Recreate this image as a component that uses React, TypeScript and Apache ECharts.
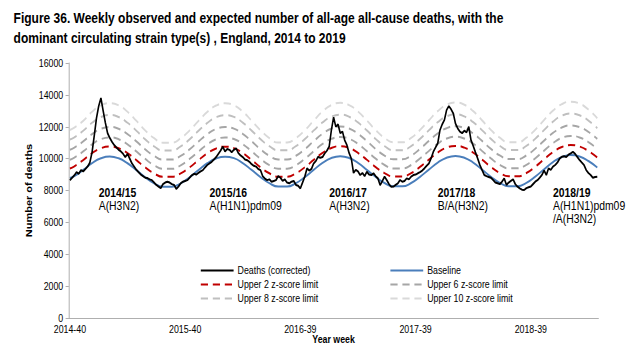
import React, { useEffect, useRef } from "react";
import * as echarts from "echarts";

// ---------- data ----------
const titleText =
  "Figure 36. Weekly observed and expected number of all-age all-cause deaths, with the\ndominant circulating strain type(s) , England, 2014 to 2019";

// ISO year-week spans shown on the axis (year, first week, last week)
const yearWeekSpans: [number, number, number][] = [
  [2014, 40, 52],
  [2015, 1, 53],
  [2016, 1, 52],
  [2017, 1, 52],
  [2018, 1, 52],
  [2019, 1, 17],
];
const tickLabels = ["2014-40", "2015-40", "2016-39", "2017-39", "2018-39"];

// weekly deaths (corrected), 2014-40 .. 2019-17
const deaths = [
  8650, 8800, 8950, 9150, 9050, 9280, 9200, 9350, 9500, 9750,
  10400, 11450, 12550, 13300, 13800, 13000, 12250, 11600, 11300, 11050,
  10850, 10700, 10550, 10450, 10300, 10100, 10300, 10000, 9700, 9500,
  9300, 9150, 9000, 8900, 8800, 8780, 8700, 8650, 8500, 8350,
  8250, 8150, 8400, 8500, 8550, 8500, 8400, 8350, 8100, 8250,
  8450, 8550, 8600, 8650, 8800, 8950, 9050, 9000, 9100, 9200,
  9280, 9450, 9600, 9700, 9800, 9950, 10100, 10300, 10500, 10750,
  10450, 10600, 10550, 10400, 10550, 10650, 10350, 10200, 10100, 9950,
  9900, 9800, 9650, 9550, 9500, 9350, 9280, 8900, 8750, 8650,
  8700, 8550, 8600, 8650, 8900, 8800, 8600, 8700, 8500, 8450,
  8550, 8600, 8350, 8300, 8130, 8500, 8870, 9390, 9250, 9350,
  9700, 9850, 10120, 10050, 10100, 10330, 10500, 10750, 11790, 12600,
  12000, 12150, 11600, 11700, 11150, 10850, 10350, 10000, 9100, 9300,
  9200, 8970, 9100, 8900, 9180, 9000, 8970, 9080, 8900, 8760,
  8340, 8600, 8870, 8650, 8400, 8240, 8250, 8350, 8450, 8660,
  8550, 8600, 8760, 8700, 8870, 8970, 9000, 9080, 9150, 9250,
  9390, 9550, 9700, 10020, 10430, 10700, 10960, 11790, 12150, 12420,
  13050, 13300, 13100, 12840, 12200, 11900, 11690, 11600, 11750, 11650,
  12000, 11170, 10800, 10400, 10020, 9600, 9280, 8970, 8900, 8850,
  8800, 8660, 8500, 8450, 8400, 8550, 8760, 8350, 8500, 8600,
  8700, 8400, 8240, 8130, 8050, 8030, 8150, 8200, 8250, 8400,
  8550, 8650, 8800, 8970, 9250, 8970, 9390, 9300, 9500, 9600,
  9750, 10000, 10120, 10150, 10100, 10250, 10330, 10430, 10300, 10100,
  9910, 9750, 9600, 9280, 9100, 8970, 8800, 8850, 8870,
];

// week indices (from 2014-40) at which baseline and limits were read
const limitWeeks = [
  0, 2, 6, 10, 14, 18, 22, 26, 30, 34, 38, 42, 46, 50, 54, 58, 62, 66, 70, 74,
  78, 82, 86, 90, 94, 98, 102, 106, 110, 114, 118, 122, 126, 130, 134, 138,
  142, 146, 150, 154, 158, 162, 166, 170, 174, 178, 182, 186, 190, 194, 198,
  202, 206, 210, 214, 218, 222, 226, 230, 234, 238,
];

const baseline = [
  8780,
  8900, 9290, 9720, 10020, 10130, 10020, 9710, 9280, 8830, 8450, 8240, 8240, 8450,
  8830, 9280, 9710, 10010, 10120, 10030, 9720, 9290, 8840, 8460, 8250, 8250, 8460,
  8840, 9290, 9730, 10040, 10150, 10040, 9730, 9300, 8850, 8470, 8260, 8260, 8470,
  8860, 9310, 9750, 10060, 10170, 10060, 9750, 9310, 8860, 8480, 8270, 8270, 8480,
  8870, 9330, 9780, 10100, 10220, 10130, 9850, 9440,
];
const upper2 = [
  9380,
  9520, 9910, 10340, 10650, 10760, 10650, 10340, 9910, 9450, 9070, 8860, 8860, 9070,
  9450, 9900, 10330, 10640, 10750, 10660, 10350, 9920, 9460, 9080, 8870, 8870, 9080,
  9460, 9920, 10360, 10670, 10780, 10670, 10360, 9930, 9470, 9090, 8880, 8880, 9090,
  9480, 9940, 10380, 10690, 10800, 10690, 10380, 9940, 9480, 9100, 8890, 8890, 9100,
  9490, 9960, 10410, 10730, 10850, 10760, 10480, 10070,
];
const upper4 = [
  9930,
  10060, 10450, 10900, 11220, 11330, 11220, 10900, 10450, 9980, 9580, 9360, 9360, 9580,
  9980, 10440, 10890, 11210, 11320, 11230, 10910, 10460, 9990, 9590, 9370, 9370, 9590,
  9990, 10460, 10920, 11240, 11350, 11240, 10920, 10470, 10000, 9600, 9380, 9380, 9600,
  10010, 10480, 10940, 11260, 11370, 11260, 10940, 10480, 10010, 9610, 9390, 9390, 9610,
  10020, 10500, 10970, 11300, 11420, 11330, 11040, 10610,
];
const upper6 = [
  10560,
  10690, 11080, 11540, 11870, 11990, 11870, 11540, 11080, 10580, 10170, 9940, 9940, 10170,
  10580, 11070, 11530, 11860, 11980, 11880, 11550, 11090, 10590, 10180, 9950, 9950, 10180,
  10590, 11090, 11560, 11890, 12010, 11890, 11560, 11100, 10600, 10190, 9960, 9960, 10190,
  10610, 11110, 11580, 11910, 12030, 11910, 11580, 11110, 10610, 10200, 9970, 9970, 10200,
  10620, 11130, 11610, 11950, 12080, 11980, 11680, 11240,
];
const upper8 = [
  11200,
  11330, 11750, 12250, 12610, 12740, 12610, 12250, 11750, 11210, 10770, 10510, 10510, 10770,
  11210, 11740, 12240, 12600, 12730, 12620, 12260, 11760, 11220, 10780, 10520, 10520, 10780,
  11220, 11760, 12270, 12630, 12760, 12630, 12270, 11770, 11230, 10790, 10530, 10530, 10790,
  11240, 11780, 12290, 12650, 12780, 12650, 12290, 11780, 11240, 10800, 10540, 10540, 10800,
  11250, 11800, 12320, 12690, 12830, 12720, 12390, 11910,
];
const upper10 = [
  11800,
  11950, 12370, 12940, 13340, 13480, 13340, 12940, 12370, 11770, 11280, 11000, 11000, 11280,
  11770, 12360, 12930, 13330, 13470, 13350, 12950, 12380, 11780, 11290, 11010, 11010, 11290,
  11780, 12380, 12960, 13360, 13500, 13360, 12960, 12390, 11790, 11300, 11020, 11020, 11300,
  11800, 12400, 12980, 13380, 13520, 13380, 12980, 12400, 11800, 11310, 11030, 11030, 11310,
  11810, 12420, 13010, 13420, 13570, 13450, 13080, 12530,
];

// season annotations: season, dominant strain lines, anchor week index
const seasonNotes: { season: string; strains: string[]; week: number }[] = [
  { season: "2014/15", strains: ["A(H3N2)"], week: 13 },
  { season: "2015/16", strains: ["A(H1N1)pdm09"], week: 63 },
  { season: "2016/17", strains: ["A(H3N2)"], week: 117 },
  { season: "2017/18", strains: ["B/A(H3N2)"], week: 166 },
  { season: "2018/19", strains: ["A(H1N1)pdm09", "/A(H3N2)"], week: 218 },
];

// ---------- chart ----------
const FONT = "'Liberation Sans',Arial,sans-serif";
const SQUEEZE = 0.8; // the reference image is horizontally condensed
const W = 640 / SQUEEZE;
const H = 355;

export default function App() {
  const ref = useRef<HTMLDivElement>(null);

  useEffect(() => {
    if (!ref.current) return;
    const chart = echarts.init(ref.current, undefined, { renderer: "svg" });

    const categories: string[] = [];
    for (const [y, a, b] of yearWeekSpans) {
      for (let w = a; w <= b; w++) categories.push(`${y}-${String(w).padStart(2, "0")}`);
    }
    const pairs = (vals: number[]) => limitWeeks.map((w, i) => [w, vals[i]]);

    const dashed = (name: string, vals: number[], color: string) => ({
      name,
      type: "line",
      data: pairs(vals),
      smooth: true,
      symbol: "none",
      lineStyle: { color, width: 2, type: [9, 6] },
      itemStyle: { color },
      silent: true,
    });

    const legendBase = {
      top: 260,
      orient: "vertical",
      itemWidth: 41,
      itemHeight: 12,
      itemGap: 3,
      itemStyle: { color: "rgba(0,0,0,0)", borderColor: "rgba(0,0,0,0)", borderWidth: 0, opacity: 0 },
      textStyle: { fontFamily: FONT, fontSize: 11, color: "#000" },
    };

    chart.setOption({
      animation: false,
      backgroundColor: "#ffffff",
      textStyle: { fontFamily: FONT },
      title: {
        text: titleText,
        left: 12,
        top: 3,
        textStyle: { fontFamily: FONT, fontSize: 15, fontWeight: "bold", color: "#000", lineHeight: 20 },
      },
      legend: [
        {
          ...legendBase,
          left: 245,
          data: ["Deaths (corrected)", "Upper 2 z-score limit", "Upper 8 z-score limit"],
        },
        {
          ...legendBase,
          left: 482,
          data: ["Baseline", "Upper 6 z-score limit", "Upper 10 z-score limit"],
        },
      ],
      grid: { left: 86, right: 52, top: 63, bottom: 37 },
      xAxis: {
        type: "category",
        data: categories,
        boundaryGap: true,
        name: "Year week",
        nameLocation: "middle",
        nameGap: 16,
        nameMoveOverlap: false,
        nameTextStyle: { fontFamily: FONT, fontSize: 11, fontWeight: "bold", color: "#000" },
        axisLine: { lineStyle: { color: "#a6a6a6", width: 1 } },
        axisTick: { interval: 0, length: 3, lineStyle: { color: "#a6a6a6" } },
        axisLabel: {
          interval: (_i: number, v: string) => tickLabels.includes(v),
          fontFamily: FONT,
          fontSize: 11,
          color: "#000",
          margin: 6,
        },
        splitLine: { show: false },
      },
      yAxis: {
        type: "value",
        min: 0,
        max: 16000,
        interval: 2000,
        name: "Number of deaths",
        nameLocation: "middle",
        nameGap: 44,
        nameMoveOverlap: false,
        nameTextStyle: { fontFamily: FONT, fontSize: 11, fontWeight: "bold", color: "#000" },
        axisLine: { show: true, lineStyle: { color: "#a6a6a6", width: 1 } },
        axisTick: { show: true, length: 4, lineStyle: { color: "#a6a6a6" } },
        axisLabel: {
          fontFamily: FONT,
          fontSize: 11,
          color: "#000",
          margin: 7,
          formatter: (v: number) => String(v),
        },
        splitLine: { show: false },
      },
      series: [
        dashed("Upper 10 z-score limit", upper10, "#d9d9d9"),
        dashed("Upper 8 z-score limit", upper8, "#bfbfbf"),
        dashed("Upper 6 z-score limit", upper6, "#a6a6a6"),
        dashed("Upper 4 z-score limit", upper4, "#a6a6a6"),
        dashed("Upper 2 z-score limit", upper2, "#c00000"),
        {
          name: "Baseline",
          type: "line",
          data: pairs(baseline),
          smooth: true,
          symbol: "none",
          lineStyle: { color: "#4a7ebb", width: 2 },
          itemStyle: { color: "#4a7ebb" },
          silent: true,
        },
        {
          name: "Deaths (corrected)",
          type: "line",
          data: deaths,
          symbol: "none",
          lineStyle: { color: "#000000", width: 2 },
          itemStyle: { color: "#000000" },
          silent: true,
        },
      ],
    });

    const notes: any[] = [];
    for (const n of seasonNotes) {
      const px = chart.convertToPixel({ xAxisIndex: 0 }, n.week) as number;
      notes.push({
        type: "text",
        left: px,
        top: 186,
        style: { text: n.season, fontFamily: FONT, fontSize: 13, fontWeight: "bold", fill: "#000" },
      });
      n.strains.forEach((s, k) => {
        notes.push({
          type: "text",
          left: px,
          top: 199 + k * 13,
          style: { text: s, fontFamily: FONT, fontSize: 13, fill: "#000" },
        });
      });
    }
    chart.setOption({ graphic: notes });

    return () => chart.dispose();
  }, []);

  return (
    <div style={{ position: "fixed", left: 0, top: 0, width: 640, height: H, overflow: "hidden", background: "#fff" }}>
      <div
        ref={ref}
        style={{
          width: W,
          height: H,
          transform: `scaleX(${SQUEEZE})`,
          transformOrigin: "0 0",
        }}
      />
    </div>
  );
}
